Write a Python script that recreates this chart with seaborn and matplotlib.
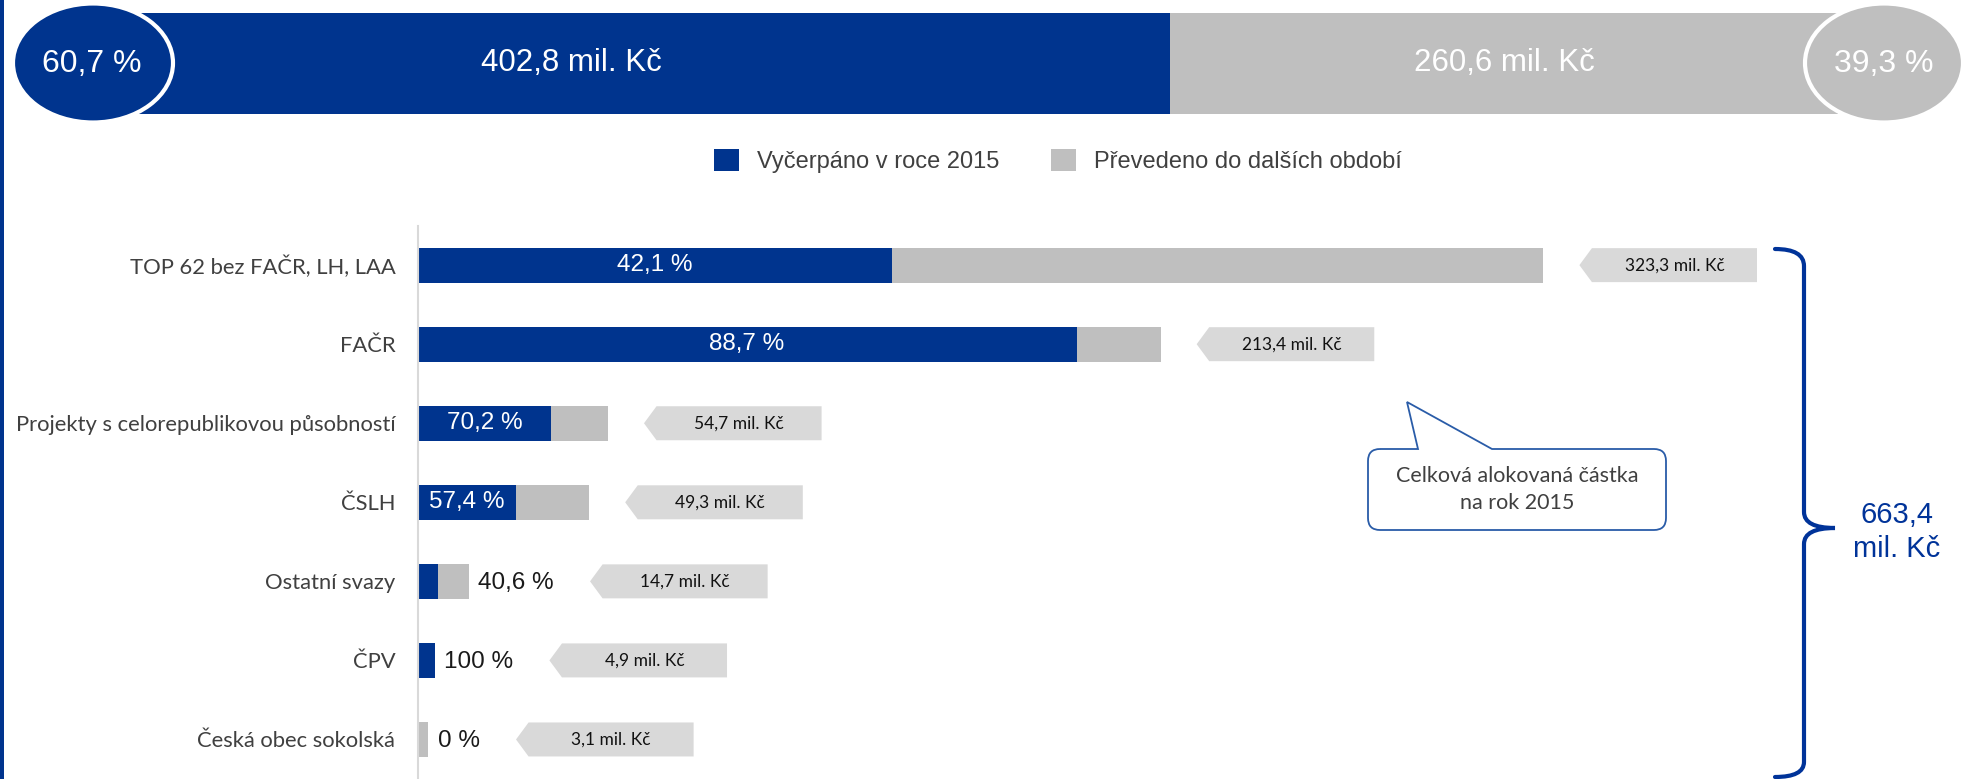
import numpy as np
import pandas as pd
import matplotlib
matplotlib.use("Agg")
import matplotlib.pyplot as plt
from matplotlib.patches import Ellipse, Patch, PathPatch, Polygon, Rectangle
from matplotlib.path import Path
import seaborn as sns

# ── data ─────────────────────────────────────────────────────────────────────
categories = [
    "TOP 62 bez FAČR, LH, LAA",
    "FAČR",
    "Projekty s celorepublikovou působností",
    "ČSLH",
    "Ostatní svazy",
    "ČPV",
    "Česká obec sokolská",
]
allocated = [323.3, 213.4, 54.7, 49.3, 14.7, 4.9, 3.1]      # mil. Kč
spent_pct = [42.1, 88.7, 70.2, 57.4, 40.6, 100.0, 0.0]      # % vyčerpáno
label_inside = [True, True, True, True, False, False, False]

total_spent = 402.8
total_carried = 260.6
total_spent_pct = 60.7
total_carried_pct = 39.3
total_allocated = 663.4

legend_labels = ["Vyčerpáno v roce 2015", "Převedeno do dalších období"]
callout_text = "Celková alokovaná částka\nna rok 2015"

BLUE = "#00348E"
GREY = "#BFBFBF"
TAG_GREY = "#D9D9D9"
AXIS_GREY = "#D9D9D9"
TEXT_GREY = "#404040"
BRACE_BLUE = "#003399"
CALLOUT_BLUE = "#2A5CA8"


def czk(v):
    return f"{v:.1f}".replace(".", ",") + " mil. Kč"


def pct(v):
    return f"{v:g}".replace(".", ",") + " %"


df = pd.DataFrame({"category": categories, "allocated": allocated, "pct": spent_pct})
df["spent"] = df["allocated"] * df["pct"] / 100

# ── figure / layout (pixel based) ────────────────────────────────────────────
W, H = 1966, 779
sns.set_theme(style="white")
plt.rcParams["font.family"] = ["Liberation Sans", "DejaVu Sans"]

fig = plt.figure(figsize=(W / 100, H / 100), dpi=100)

AX_LEFT = 417.5       # px, y axis of the main chart
PX_PER_UNIT = 3.4825  # px per mil. Kč
AX_TOP = 225.6

# ── summary bar ──────────────────────────────────────────────────────────────
tb = fig.add_axes([138 / W, 1 - 114 / H, 1700 / W, 101.5 / H])
sns.barplot(x=[total_allocated], y=["celkem"], color=GREY, width=1, orient="h",
            saturation=1, linewidth=0, errorbar=None, ax=tb)
sns.barplot(x=[total_spent], y=["celkem"], color=BLUE, width=1, orient="h",
            saturation=1, linewidth=0, errorbar=None, ax=tb)
tb.set_xlim(0, total_allocated)
tb.set_ylim(0.5, -0.5)
tb.axis("off")
tb.text(total_spent * 0.42, 0, czk(total_spent), color="white", fontsize=22.5,
        ha="center", va="center")
tb.text((total_spent + total_allocated) / 2, 0, czk(total_carried), color="white",
        fontsize=22.5, ha="center", va="center")

# ── main chart ───────────────────────────────────────────────────────────────
ax = fig.add_axes([AX_LEFT / W, 0, 1 - AX_LEFT / W, (H - AX_TOP) / H])
sns.barplot(data=df, x="allocated", y="category", color=GREY, width=0.44,
            orient="h", saturation=1, linewidth=0, errorbar=None, ax=ax)
sns.barplot(data=df, x="spent", y="category", color=BLUE, width=0.44,
            orient="h", saturation=1, linewidth=0, errorbar=None, ax=ax)
ax.set_xlim(0, (W - AX_LEFT) / PX_PER_UNIT)
ax.set_ylim(len(categories) - 0.5, -0.5)
ax.set_xlabel("")
ax.set_ylabel("")
ax.set_xticks([])
for s in ["top", "right", "bottom"]:
    ax.spines[s].set_visible(False)
ax.spines["left"].set_color(AXIS_GREY)
ax.spines["left"].set_linewidth(1.5)
ax.set_yticks(np.arange(-0.5, len(categories), 1), minor=True)
ax.tick_params(axis="y", which="major", length=0, pad=16, labelsize=15.8,
               labelcolor=TEXT_GREY)
ax.tick_params(axis="y", which="minor", length=5, width=1.5, color=AXIS_GREY)
for lbl in ax.get_yticklabels():
    lbl.set_fontfamily("Lato")

pct_texts = []
for i, row in df.iterrows():
    if label_inside[i]:
        t = ax.text(row["spent"] / 2, i, pct(row["pct"]), color="white",
                    fontsize=17.5, ha="center", va="center")
    else:
        t = ax.annotate(pct(row["pct"]), xy=(row["allocated"], i), xytext=(7, -1),
                        textcoords="offset points", color="#1A1A1A",
                        fontsize=17.5, ha="left", va="center")
    pct_texts.append(t)

# amount tags (arrow shaped), placed after bar / outside label
fig.canvas.draw()
renderer = fig.canvas.get_renderer()
inv = ax.transData.inverted()
gap = 36 / PX_PER_UNIT
tag_w, tag_tip, tag_h = 51.0, 3.6, 0.43
for i, row in df.iterrows():
    if label_inside[i]:
        x0 = row["allocated"] + gap
    else:
        bb = pct_texts[i].get_window_extent(renderer)
        x0 = inv.transform((bb.x1, 0))[0] + gap
    verts = [(x0, i), (x0 + tag_tip, i - tag_h / 2), (x0 + tag_w, i - tag_h / 2),
             (x0 + tag_w, i + tag_h / 2), (x0 + tag_tip, i + tag_h / 2)]
    ax.add_patch(Polygon(verts, closed=True, fc=TAG_GREY, ec="none"))
    ax.text(x0 + tag_w / 2 + tag_tip / 2, i, czk(row["allocated"]), fontsize=12.5,
            family="Lato", color="#111111", ha="center", va="center")

# ── overlay for decorations (pixel coords, y down) ───────────────────────────
ov = fig.add_axes([0, 0, 1, 1], zorder=10)
ov.set_xlim(0, W)
ov.set_ylim(H, 0)
ov.axis("off")
ov.patch.set_alpha(0)

ov.add_patch(Rectangle((0, 0), 3.5, H, fc=BLUE, ec="none"))

ov.add_patch(Ellipse((93, 63), 160, 119, fc=BLUE, ec="white", lw=3))
ov.text(92, 64, pct(total_spent_pct), color="white", fontsize=23,
        ha="center", va="center")
ov.add_patch(Ellipse((1884, 63), 158, 119, fc=GREY, ec="white", lw=3))
ov.text(1884, 64, pct(total_carried_pct), color="white", fontsize=23,
        ha="center", va="center")

# legend
handles = [Patch(fc=BLUE, ec="none"), Patch(fc=GREY, ec="none")]
fig.legend(handles, legend_labels, loc="center", bbox_to_anchor=(1058 / W, 1 - 161 / H),
           ncol=2, frameon=False, fontsize=17, handlelength=1.05, handleheight=1.05,
           handletextpad=0.75, columnspacing=2.2, labelcolor=TEXT_GREY)

# brace
M, C3, L = Path.MOVETO, Path.CURVE3, Path.LINETO
brace = Path(
    [(1775, 249), (1804, 249), (1804, 266), (1804, 512), (1804, 528), (1835, 528),
     (1804, 528), (1804, 544), (1804, 762), (1804, 777), (1775, 777)],
    [M, C3, C3, L, C3, C3, C3, C3, L, C3, C3])
ov.add_patch(PathPatch(brace, fc="none", ec=BRACE_BLUE, lw=3, capstyle="round"))
ov.text(1897, 532, czk(total_allocated).replace(" mil", "\nmil"), color=BRACE_BLUE,
        fontsize=21, ha="center", va="center", linespacing=1.3)

# callout
x0, y0, x1, y1, r = 1368, 449, 1666, 530, 12
call = Path(
    [(x0 + r, y0), (1418, y0), (1407, 402), (1492, y0), (x1 - r, y0),
     (x1, y0), (x1, y0 + r), (x1, y1 - r), (x1, y1), (x1 - r, y1),
     (x0 + r, y1), (x0, y1), (x0, y1 - r), (x0, y0 + r), (x0, y0), (x0 + r, y0)],
    [M, L, L, L, L, C3, C3, L, C3, C3, L, C3, C3, L, C3, C3])
ov.add_patch(PathPatch(call, fc="white", ec=CALLOUT_BLUE, lw=1.3))
ov.text((x0 + x1) / 2, (y0 + y1) / 2, callout_text, color=TEXT_GREY, fontsize=15.5,
        family="Lato", ha="center", va="center", linespacing=1.4)

fig.savefig("out.png", dpi=100)
